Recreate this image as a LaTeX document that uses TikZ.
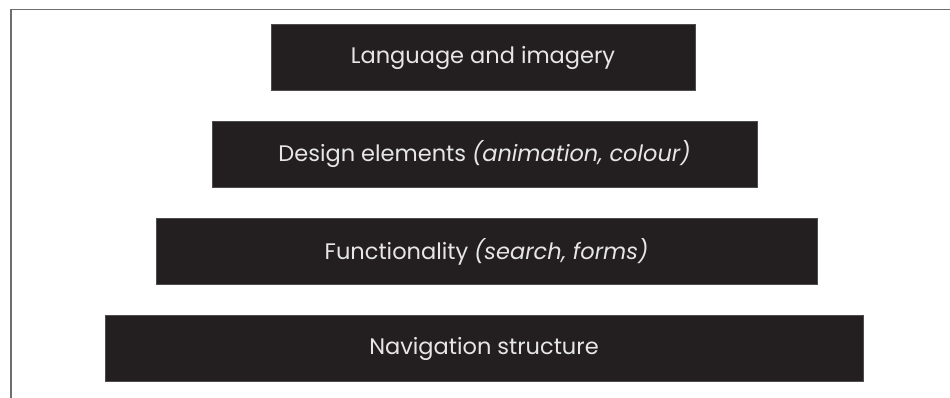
\documentclass[tikz,border=0pt]{standalone}
\usepackage{fontspec}
\setmainfont{Poppins}
\usepackage{tikz}
\usetikzlibrary{positioning}
\definecolor{boxblack}{HTML}{231F20}
\definecolor{boxtext}{HTML}{E6E6E6}
\definecolor{framegray}{HTML}{6E6E6E}
\tikzstyle{blkrect} = [rectangle,
minimum height=66pt,
inner sep=0pt,
text centered,
fill=boxblack,
draw=boxblack!80!white,
line width=0.6pt,
text=boxtext,
font=\fontsize{22.5}{26}\selectfont]

\begin{document}
\begin{tikzpicture}[node distance=97pt]
		\useasboundingbox (0,0) rectangle (950pt,-398pt);
		\draw [framegray, line width=1.6pt] (950pt,-9.5pt) -- (11pt,-9.5pt) -- (11pt,-398pt);
		\node (lang) [blkrect, minimum width=424pt] at (483pt,-57.5pt) {Language and imagery};
		\node (design) [blkrect, minimum width=545pt, below of=lang, xshift=1.5pt] {Design elements \textit{(animation, colour)}};
		\node (func) [blkrect, minimum width=661pt, below of=design, xshift=2pt] {Functionality \textit{(search, forms)}};
		\node (nav) [blkrect, minimum width=758pt, below of=func, xshift=-2.5pt] {Navigation structure};
	\end{tikzpicture}
\end{document}
